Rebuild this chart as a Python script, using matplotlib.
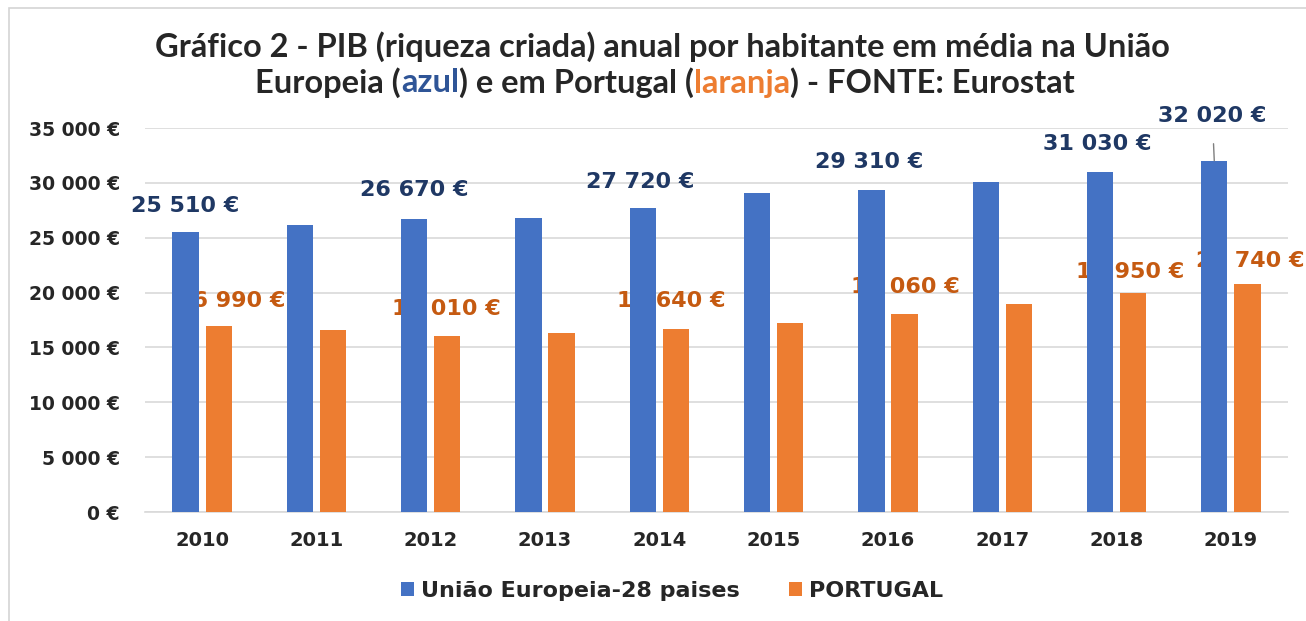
import matplotlib
matplotlib.use("Agg")
import matplotlib.pyplot as plt
import numpy as np
from matplotlib.patches import Rectangle

years = ["2010", "2011", "2012", "2013", "2014", "2015", "2016", "2017", "2018", "2019"]
eu_values = [25510, 26200, 26670, 26800, 27720, 29100, 29310, 30050, 31030, 32020]
pt_values = [16990, 16600, 16010, 16300, 16640, 17250, 18060, 19000, 19950, 20740]
labeled_idx = [0, 2, 4, 6, 8, 9]
series_names = ["União Europeia-28 paises", "PORTUGAL"]
yticks = [0, 5000, 10000, 15000, 20000, 25000, 30000, 35000]

# label offsets (pixels), styling only
eu_off = {0: (0, 26), 2: (0, 29), 4: (-3, 26), 6: (-2, 28), 8: (-3, 28), 9: (-2, 45)}
pt_off = {0: (12, 25), 2: (-1, 27), 4: (-5, 28), 6: (1, 27), 8: (-3, 21), 9: (3, 23)}

BLUE = "#4472C4"
ORANGE = "#ED7D31"
NAVY = "#1F3864"
BROWN = "#C55A11"

W, H = 1306, 621
fig = plt.figure(figsize=(W / 100, H / 100), dpi=100)
fig.patch.set_facecolor("white")

# chart frame
fig.patches.append(Rectangle((9 / W, -0.1), 1.2, 1 - 8 / H + 0.1, transform=fig.transFigure,
                             fill=False, edgecolor="#D4D4D4", linewidth=1.2))

ax = fig.add_axes([145 / W, 1 - 512 / H, (1288 - 145) / W, 384 / H])
x = np.arange(len(years))
bw = 0.23
off = 0.145
ax.bar(x - off, eu_values, bw, color=BLUE, zorder=3, label=series_names[0])
ax.bar(x + off, pt_values, bw, color=ORANGE, zorder=3, label=series_names[1])

ax.set_xlim(-0.5, len(years) - 0.5)
ax.set_ylim(0, 35000)
ax.set_yticks(yticks)
ax.set_yticklabels([("{:,}".format(v).replace(",", " ") + " €") for v in yticks],
                   fontsize=13.5, fontweight="bold", color="#262626", family="DejaVu Sans")
ax.set_xticks(x)
ax.set_xticklabels(years, fontsize=14, fontweight="bold", color="#262626", family="DejaVu Sans")
ax.tick_params(axis="both", length=0)
ax.tick_params(axis="y", pad=18)
ax.tick_params(axis="x", pad=14)
ax.grid(axis="y", color="#D9D9D9", linewidth=1.2, zorder=0)
for s in ["top", "right", "left"]:
    ax.spines[s].set_visible(False)
ax.spines["bottom"].set_color("#D9D9D9")
ax.spines["bottom"].set_linewidth(1.2)
ax.set_axisbelow(True)

LFS = 16
for i in labeled_idx:
    v = eu_values[i]
    dx, dy = eu_off[i]
    txt = "{:,}".format(v).replace(",", " ") + " €"
    kw = dict(ha="center", va="center", fontsize=LFS, fontweight="bold", color=NAVY,
              zorder=5, family="DejaVu Sans", textcoords="offset pixels")
    if i == 9:
        ax.annotate(txt, xy=(x[i] - off, v), xytext=(dx, dy),
                    arrowprops=dict(arrowstyle="-", color="#7F7F7F", lw=1,
                                    shrinkA=11, shrinkB=0), **kw)
    else:
        ax.annotate(txt, xy=(x[i] - off, v), xytext=(dx, dy), **kw)
    v = pt_values[i]
    dx, dy = pt_off[i]
    txt = "{:,}".format(v).replace(",", " ") + " €"
    ax.annotate(txt, xy=(x[i] + off, v), xytext=(dx, dy), textcoords="offset pixels",
                ha="center", va="center", fontsize=LFS, fontweight="bold", color=BROWN,
                zorder=2, family="DejaVu Sans")

# Title
tfont = dict(fontsize=23.5, fontweight="bold", family=["Lato", "DejaVu Sans"])
fig.text(662 / W, 1 - 47 / H, "Gráfico 2 - PIB (riqueza criada) anual por habitante em média na União",
         ha="center", va="center", color="#262626", **tfont)
parts = [("Europeia (", "#262626"), ("azul", "#2F5597"), (") e em Portugal (", "#262626"),
         ("laranja", "#ED7D31"), (") - FONTE: Eurostat", "#262626")]
fig.canvas.draw()
r = fig.canvas.get_renderer()
texts = []
widths = []
for s, c in parts:
    t = fig.text(0, 1 - 83 / H, s, ha="left", va="center", color=c, **tfont)
    widths.append(t.get_window_extent(renderer=r).width)
    texts.append(t)
total = sum(widths)
start = 665 - total / 2
for t, w in zip(texts, widths):
    t.set_x(start / W)
    start += w

leg = fig.legend(loc="center", bbox_to_anchor=(672 / W, 1 - 591 / H), ncol=2, frameon=False,
                 prop=dict(size=16, weight="bold", family="DejaVu Sans"),
                 handlelength=0.6, handleheight=0.6, handletextpad=0.3, columnspacing=2.2)
for t in leg.get_texts():
    t.set_color("#262626")

fig.savefig("out.png", dpi=100, facecolor="white")
